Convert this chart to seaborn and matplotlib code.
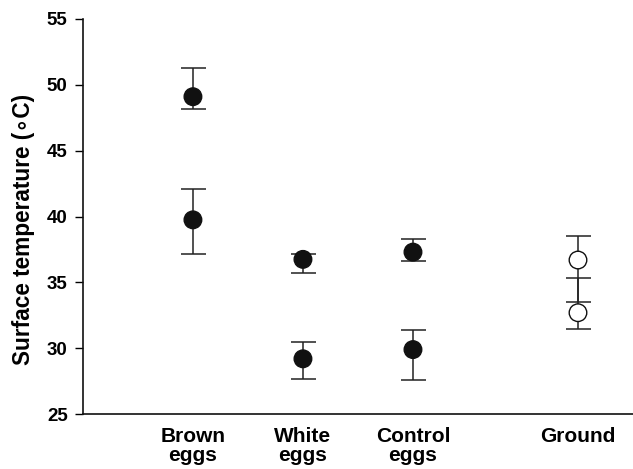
import numpy as np
import pandas as pd
import matplotlib
matplotlib.use("Agg")
import matplotlib.pyplot as plt
import seaborn as sns

categories = ["Brown\neggs", "White\neggs", "Control\neggs", "Ground"]
cat_pos = [1, 2, 3, 4.5]

# two measurements per category (upper / lower)
upper_mean = [49.1, 36.75, 37.3, 36.7]
upper_hi = [51.3, 37.15, 38.3, 38.5]
upper_lo = [48.2, 35.75, 36.6, 33.55]
lower_mean = [39.75, 29.2, 29.9, 32.7]
lower_hi = [42.1, 30.5, 31.4, 35.35]
lower_lo = [37.15, 27.7, 27.6, 31.5]
filled = [True, True, True, False]

sns.set_theme(style="ticks")
plt.rcParams['font.family'] = ['Liberation Sans', 'DejaVu Sans']
plt.rcParams['text.color'] = 'black'
plt.rcParams['axes.labelcolor'] = 'black'
plt.rcParams['xtick.color'] = 'black'
plt.rcParams['ytick.color'] = 'black'

rows = []
for i, c in enumerate(categories):
    for m, hi, lo in ((upper_mean[i], upper_hi[i], upper_lo[i]),
                      (lower_mean[i], lower_hi[i], lower_lo[i])):
        rows.append(dict(cat=c, x=cat_pos[i], y=m, hi=hi, lo=lo,
                         kind="filled" if filled[i] else "open"))
df = pd.DataFrame(rows)

fig = plt.figure(figsize=(6.33, 4.69), dpi=100)
ax = fig.add_axes([0.131, 0.117, 0.869, 0.8425])

ax.errorbar(df["x"], df["y"], yerr=[df["y"] - df["lo"], df["hi"] - df["y"]],
            fmt="none", ecolor="#222222", elinewidth=1.1, capsize=9,
            capthick=1.1, zorder=1)
sns.scatterplot(data=df, x="x", y="y", hue="kind", style="kind",
                palette={"filled": "#111111", "open": "white"},
                markers={"filled": "o", "open": "o"},
                s=160, edgecolor="#111111", linewidth=1.0,
                legend=False, ax=ax, zorder=3)

ax.set_xlim(0, 5)
ax.set_ylim(25, 55)
ax.set_yticks([25, 30, 35, 40, 45, 50, 55])
ax.set_xticks(cat_pos)
ax.set_xticklabels(categories, fontsize=15, fontweight="bold", linespacing=1.0)
ax.tick_params(axis="x", length=0, pad=9)
ax.tick_params(axis="y", length=6, width=1, labelsize=13.5, pad=5)
for lab in ax.get_yticklabels():
    lab.set_fontweight("bold")
for lab in ax.get_xticklabels():
    lab.set_verticalalignment("top")
ax.set_xlabel("")
ax.set_ylabel("Surface temperature (\u2218C)", fontsize=16.3, fontweight="bold")
ax.yaxis.set_label_coords(-0.088, 0.468)
sns.despine(ax=ax)
ax.spines["left"].set_linewidth(1.2)
ax.spines["bottom"].set_linewidth(1.2)
ax.spines["left"].set_color("#111111")
ax.spines["bottom"].set_color("#111111")

fig.savefig("out.png", dpi=100)
